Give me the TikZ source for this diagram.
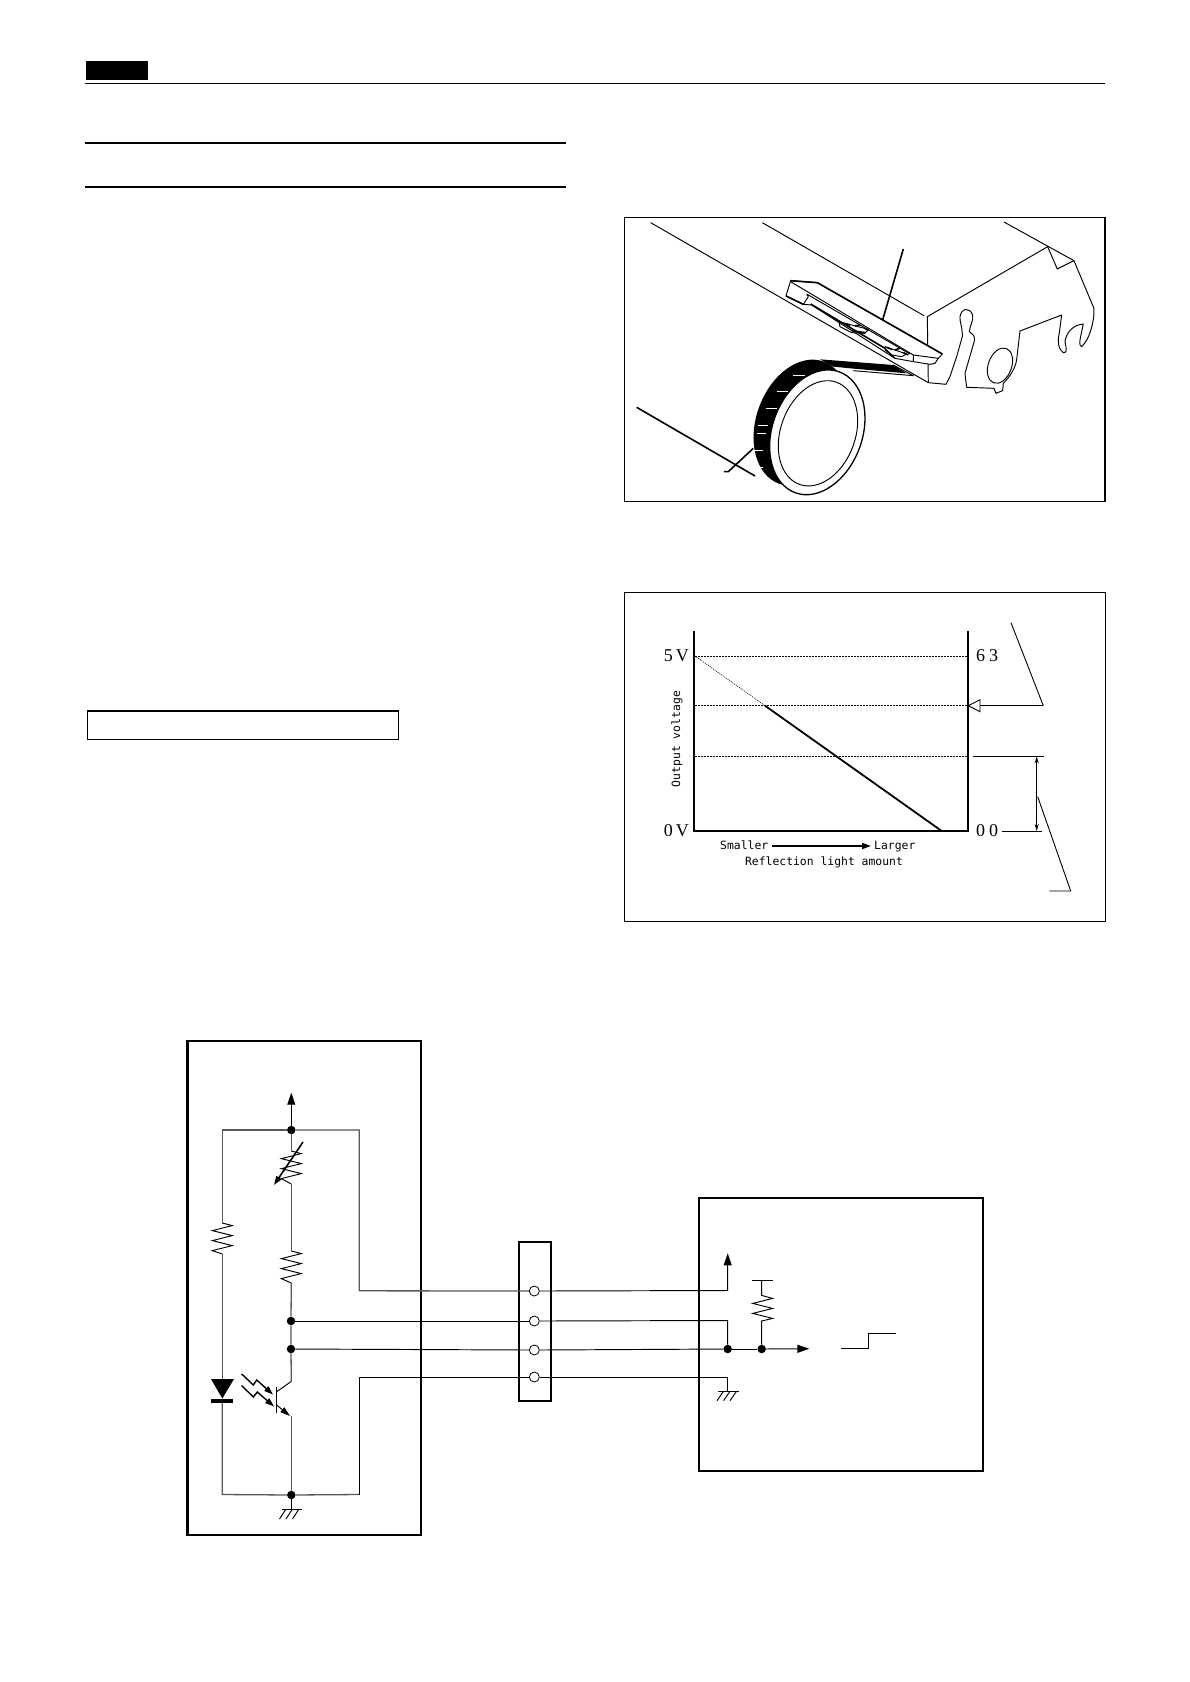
\documentclass[tikz,border=0pt]{standalone}
\usepackage{fontspec}
\setmainfont{Liberation Serif}
\newfontfamily\gothic{DejaVu Sans Mono}
\usetikzlibrary{arrows.meta}
\tikzset{
  x=1pt,y=-1pt,
  wire/.style={line width=0.95pt,line join=miter},
  greywire/.style={line width=1.3pt,draw=black!65},
  frameline/.style={line width=1.5pt},
  boxline/.style={line width=2.4pt},
  art/.style={line width=0.95pt,line join=round},
  artthick/.style={line width=1.6pt,line join=round},
  dotline/.style={line width=1pt,dash pattern=on 1.5pt off 1.5pt},
  joint/.style={circle,fill=black,inner sep=0pt,minimum size=8.5pt},
  pin/.style={circle,draw=black,fill=white,line width=0.8pt,inner sep=0pt,minimum size=10pt},
  axisnum/.style={font=\fontsize{18}{18}\selectfont,inner sep=0pt},
  monotext/.style={font=\gothic\fontsize{11.4}{12}\selectfont,inner sep=0pt,text height=8.5pt,text depth=2.2pt},
  tip/.style={-{Triangle[length=12pt,width=8pt]}},
}
\begin{document}
\begin{tikzpicture}
\useasboundingbox (0,0) rectangle (1190,1682);
\fill[white] (0,0) rectangle (1190,1682);

% ---- header
\fill[black] (86,61) rectangle (148,80);
\draw[line width=1pt] (85,83.5) -- (1105,83.5);
\draw[line width=2pt] (85,143) -- (566,143);
\draw[line width=2pt] (85,187) -- (566,187);
\draw[line width=1pt] (87.3,710.7) rectangle (398.3,739.3);
\draw[line width=2pt] (87,710.9) -- (398.6,710.9);

% ---- perspective figure
\draw[frameline] (624.3,217.5) rectangle (1105,501.7);
\begin{scope}[shift={(620,200)},x=0.3333pt,y=-0.3333pt]
  \draw[art] (92,68) -- (925,548);
  \draw[art] (427,68) -- (912,347);
  \draw[art] (1152,66) -- (1362,182);
  \draw[art] (922,350) -- (1283,140) -- (1312,207) -- (1362,182) -- (1422,325) -- (1422,345)
     .. controls (1415,400) and (1400,425) .. (1385,440)
     .. controls (1375,435) and (1380,420) .. (1390,372)
     .. controls (1360,375) and (1340,395) .. (1335,425)
     .. controls (1340,450) and (1342,458) .. (1330,458)
     .. controls (1315,450) and (1312,420) .. (1318,400) -- (1325,345) -- (1200,393) -- (1190,480)
     .. controls (1185,510) and (1165,535) .. (1150,550)
     -- (1148,572) -- (1128,580) -- (1122,565) -- (1040,562) -- (1035,520) -- (1064,420)
     .. controls (1064,405) and (1055,400) .. (1048,395)
     .. controls (1050,375) and (1062,360) .. (1058,345)
     .. controls (1050,322) and (1025,322) .. (1020,350)
     .. controls (1018,365) and (1028,380) .. (1027,410)
     -- (1010,470) -- (990,530) -- (978,553) -- (925,548) -- cycle;
  \draw[art,rotate around={-20:(1140,497)}] (1140,497) ellipse (35 and 55);
  % sensor body
  \filldraw[art,fill=white] (512,242) -- (498,288) -- (550,313) -- (575,315) -- (825,475) -- (880,485) -- (930,493) -- (945,490) -- (955,475) -- (967,462) -- (592,248) -- cycle;
  \draw[artthick] (512,242) -- (592,248) -- (967,462);
  \draw[artthick] (498,288) -- (550,313);
  \draw[art] (512,245) -- (880,465) -- (880,485);
  \draw[art] (880,465) -- (955,475);
  \draw[art] (565,290) -- (550,313);
  \draw[art] (565,290) -- (560,282) -- (870,462);
  \draw[artthick] (572,312) -- (795,445);
  \draw[art] (795,445) -- (825,475);
  % connector patches on sensor
  \draw[art] (657,365) -- (745,388) -- (735,400) -- (695,398) -- (660,380) -- cycle;
  \draw[art] (795,440) -- (860,462) -- (845,470) -- (815,465) -- (795,450) -- cycle;
  \draw[artthick] (680,372) -- (690,376) (705,378) -- (720,375) (735,385) -- (745,392) (695,392) -- (735,398);
  \draw[artthick] (800,442) -- (815,448) (825,450) -- (840,445) (850,458) -- (865,465);
  % tape (black band) and wheel
  \fill[black,rotate around={-20:(544,668)}] (544,668) ellipse (135 and 195);
  \fill[black] (600,478) -- (820,495) -- (860,520) -- (690,505) -- (640,500) -- cycle;
  \draw[art] (700,512) -- (880,527) -- (820,495);
  \filldraw[art,line width=1.3pt,fill=white,rotate around={-20:(592,697)}] (592,697) ellipse (135 and 193);
  \draw[art,rotate around={-20:(594,700)}] (594,700) ellipse (112 and 163);
  \draw[white,line width=0.8pt] (520,525) -- (555,525) (470,575) -- (505,575) (437,625) -- (470,625)
     (415,677) -- (445,677) (410,700) -- (437,700) (400,750) -- (430,750) (408,802) -- (430,802);
  \draw[artthick] (50,622) -- (405,828);
  \draw[artthick] (312,815) -- (325,815) -- (400,745);
  \draw[artthick] (850,147) -- (788,360);
\end{scope}

% ---- graph figure
\draw[line width=1pt] (624.3,592.7) rectangle (1105,921);
\draw[dotline] (695,656) -- (967,656);
\draw[dotline] (695,705.7) -- (967,705.7);
\draw[dotline] (695,756.3) -- (967,756.3);
\draw[line width=0.6pt,dash pattern=on 1pt off 1pt] (695,656) -- (765,705.7);
\draw[line width=1.8pt] (765,705.7) -- (941.7,831);
\draw[line width=2pt] (693.7,630.7) -- (693.7,831) -- (968.3,831) -- (968.3,630.7);
\node[axisnum,anchor=east] (v5) at (689,656) {5\kern3pt V};
\node[axisnum,anchor=east] (v0) at (689,831) {0\kern3pt V};
\node[axisnum,anchor=west] (n63) at (976,656) {6\kern4pt 3};
\node[axisnum,anchor=west] (n00) at (976,831) {0\kern4pt 0};
\node[monotext,rotate=90] (ov) at (677,739) {Output voltage};
\node[monotext,anchor=west] (sm) at (720,846) {Smaller};
\node[monotext,anchor=west] (lg) at (874,846) {Larger};
\node[monotext] (rl) at (824,862) {Reflection light amount};
\draw[line width=1.7pt,-{Triangle[length=9pt,width=6pt]}] ([xshift=4pt]sm.east) -- ([xshift=-3pt]lg.west);
\coordinate (cA) at (1011,622.7);
\coordinate (cB) at (1043.3,705.7);
\coordinate (cC) at (980,705.7);
\draw[line width=0.9pt] (cA) -- (cB);
\draw[line width=1.2pt] (cB) -- (cC);
\draw[line width=0.9pt,fill=white] (968.3,705.7) -- (980,699.7) -- (980,711.7) -- cycle;
\draw[line width=1.1pt] (973,756.3) -- (1044,756.3);
\draw[line width=0.9pt] ([xshift=4pt]n00.east) -- (1041.7,831);
\draw[line width=1.1pt,{Stealth[length=7pt,width=4pt]}-{Stealth[length=7pt,width=4pt]}] (1036.7,756.3) -- (1036.7,831);
\draw[line width=0.9pt] (1037.7,796.7) -- (1070.7,891) -- (1049.3,891);

% ---- circuit: left box
\draw[boxline] (187.3,1040.7) rectangle (421,1535);
\coordinate (vcc) at (291.3,1092.7);
\node[joint] (ja) at (291.3,1130) {};
\node[joint] (jb) at (291,1321) {};
\node[joint] (jc) at (291,1349) {};
\node[joint] (jd) at (291.3,1495) {};
% connector
\draw[boxline] (519,1242) rectangle (551,1401);
% right box
\draw[boxline] (699,1197.7) rectangle (983,1471);
\coordinate (ra) at (727.7,1253.3);
\node[joint] (je) at (727.7,1349) {};
\node[joint] (jf) at (761.7,1349) {};
\coordinate (out) at (809.3,1348.7);

% connector pins
\node[pin] (p1) at (534.3,1291) {};
\node[pin] (p2) at (534.3,1321) {};
\node[pin] (p3) at (534.3,1350) {};
\node[pin] (p4) at (534.3,1377) {};

% wires, left
\draw[tip,wire] (ja) -- (vcc);
\draw[greywire] (ja) -- (359.3,1130) -- (359.3,1290.8) -- (p1.west);
\draw[greywire] (ja) -- (222.3,1130) -- (222.3,1223);
\draw[greywire] (222.3,1254) -- (222.3,1379);
\draw[greywire] (222.3,1400) -- (222.3,1494.5) -- (jd);
\draw[greywire] (ja) -- (291.3,1151);
\draw[greywire] (291.3,1184) -- (291.3,1251);
\draw[greywire] (291.3,1283) -- (jb) -- (jc) -- (291.3,1381.4);
\draw[greywire] (291.3,1416) -- (jd);
\draw[wire] (jb) -- (p2.west);
\draw[wire] (jc) -- (p3.west);
\draw[greywire] (jd) -- (359.3,1494.5);
\draw[wire] (359.3,1494.5) -- (359.3,1377) -- (p4.west);

% resistors
\draw[wire] (222.3,1223) -- ++(10,2.6) -- ++(-20,5) -- ++(20,5) -- ++(-20,5) -- ++(20,5) -- ++(-20,5) -- (222.3,1254);
\draw[wire] (291.3,1251) -- ++(10,2.6) -- ++(-20,5) -- ++(20,5) -- ++(-20,5) -- ++(20,5) -- ++(-20,5) -- (291.3,1283);
\draw[wire] (291.3,1151) -- ++(10,2.6) -- ++(-20,5) -- ++(20,5) -- ++(-20,5) -- ++(20,5) -- ++(-20,5) -- (291.3,1184);
\draw[line width=1.6pt,-{Triangle[length=9pt,width=6pt]}] (303,1142) -- (274,1185);

% diode
\fill[black] (211,1379) -- (234,1379) -- (222.3,1398.5) -- cycle;
\fill[black] (211,1399) rectangle (233,1403);

% phototransistor
\draw[wire] (276,1387) -- (276,1413);
\draw[wire] (276.7,1391.7) -- (291.3,1381.4);
\draw[wire,-{Triangle[length=10pt,width=6pt]}] (276.7,1405) -- (290,1416);
\draw[line width=1.4pt,-{Triangle[length=9pt,width=6pt]}] (241.7,1374) -- (253.3,1385) -- (256.7,1380) -- (273,1394.5);
\draw[line width=1.4pt,-{Triangle[length=9pt,width=6pt]}] (241.7,1385.5) -- (253.3,1397) -- (257.3,1392) -- (274,1406.5);

% ground, left
\draw[wire] (jd) -- (291.3,1509);
\draw[wire] (281.7,1509) -- (301.7,1509);
\draw[wire] (286,1509) -- (279.5,1519) (292.5,1509) -- (286,1519) (299,1509) -- (292.5,1519);

% wires, right
\draw[tip,wire] (p1.east) -- (727.7,1290.5) -- (ra);
\draw[wire] (p2.east) -- (727.7,1320.5) -- (je);
\draw[wire] (p3.east) -- (je);
\draw[wire] (je) -- (jf);
\draw[tip,wire] (jf) -- (out);
\draw[wire] (p4.east) -- (727.7,1377) -- (727.7,1391.3);
\draw[wire] (718.3,1391.3) -- (738.7,1391.3);
\draw[wire] (723.5,1391.3) -- (717,1400.7) (730,1391.3) -- (723.5,1400.7) (736.5,1391.3) -- (730,1400.7);
% pull-up
\draw[wire] (jf) -- (761.7,1321) -- ++(11,-2.6) -- ++(-20,-5) -- ++(20,-5) -- ++(-20,-5) -- ++(20,-5) -- ++(-11,-3) -- (761.7,1280.7);
\draw[wire] (752.3,1280.7) -- (772.7,1280.7);
% step
\draw[wire] (841,1348.3) -- (868.3,1348.3) -- (868.3,1333.3) -- (895.7,1333.3);
\end{tikzpicture}
\end{document}
